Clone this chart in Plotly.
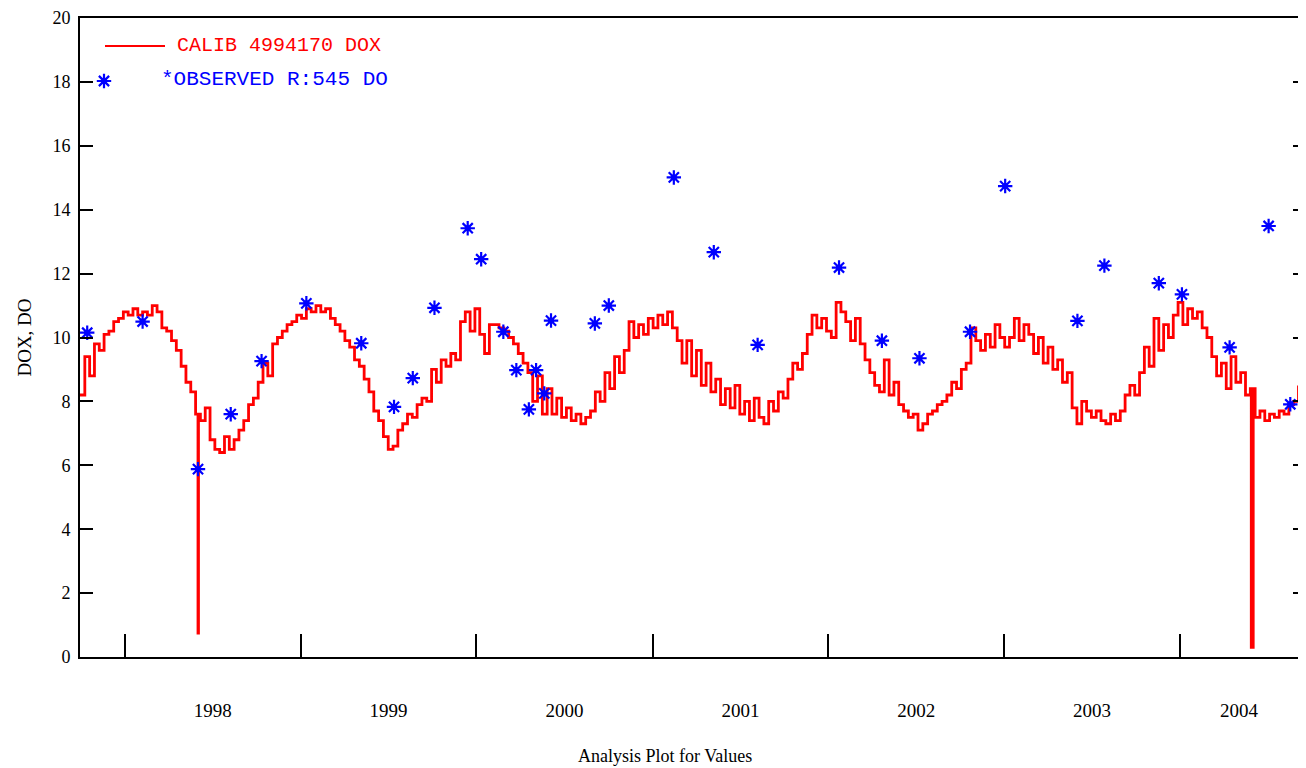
import pandas as pd
import plotly.graph_objects as go

# ---------------- data ----------------
# simulated DOX (10-day steps starting at line_start)
line_start = "1997-09-30"
line_step = "10D"
dox_values = [
    8.2, 9.4, 8.8, 9.8, 9.6, 10.1, 10.2, 10.5, 10.6, 10.8,
    10.7, 10.9, 10.7, 10.8, 10.7, 11.0, 10.8, 10.3, 10.2, 9.9,
    9.6, 9.1, 8.6, 8.3, 7.6, 7.4, 7.8, 6.8, 6.5, 6.4,
    6.9, 6.5, 6.8, 7.1, 7.4, 7.9, 8.1, 8.6, 9.2, 8.8,
    9.8, 10.0, 10.2, 10.4, 10.5, 10.7, 10.6, 10.9, 10.8, 11.0,
    10.8, 10.9, 10.6, 10.4, 10.2, 9.9, 9.7, 9.3, 9.1, 8.7,
    8.3, 7.7, 7.4, 6.9, 6.5, 6.6, 7.1, 7.3, 7.6, 7.5,
    7.9, 8.1, 8.0, 9.0, 8.6, 9.3, 9.1, 9.5, 9.3, 10.5,
    10.8, 10.2, 10.9, 10.1, 9.5, 10.4, 10.4, 10.3, 10.2, 10.0,
    9.8, 9.5, 9.2, 8.9, 8.0, 8.8, 7.6, 8.4, 7.6, 8.1,
    7.5, 7.8, 7.4, 7.6, 7.3, 7.5, 7.7, 8.3, 8.0, 8.9,
    8.4, 9.4, 8.9, 9.6, 10.5, 10.0, 10.4, 10.1, 10.6, 10.3,
    10.7, 10.4, 10.8, 10.3, 9.9, 9.2, 9.9, 8.8, 9.6, 8.5,
    9.2, 8.3, 8.7, 7.9, 8.4, 7.8, 8.5, 7.6, 8.0, 7.4,
    8.1, 7.5, 7.3, 8.0, 7.7, 8.3, 8.1, 8.7, 9.2, 9.0,
    9.5, 10.1, 10.7, 10.3, 10.6, 10.2, 10.0, 11.1, 10.8, 10.5,
    9.9, 10.6, 9.8, 9.3, 8.9, 8.5, 8.3, 9.3, 8.2, 8.6,
    7.9, 7.7, 7.5, 7.6, 7.1, 7.3, 7.6, 7.7, 7.9, 8.0,
    8.2, 8.6, 8.4, 9.0, 9.2, 10.3, 9.9, 9.6, 10.1, 9.7,
    10.4, 10.0, 9.7, 10.0, 10.6, 9.9, 10.4, 10.1, 9.5, 10.0,
    9.2, 9.7, 9.0, 9.3, 8.6, 8.9, 7.8, 7.3, 8.0, 7.7,
    7.5, 7.7, 7.4, 7.3, 7.6, 7.4, 7.7, 8.2, 8.5, 8.2,
    8.9, 9.7, 9.1, 10.6, 9.6, 10.4, 10.0, 10.7, 11.1, 10.4,
    10.9, 10.6, 10.8, 10.3, 10.0, 9.4, 8.8, 9.2, 8.4, 9.4,
    8.6, 8.9, 8.2, 8.4, 7.5, 7.7, 7.4, 7.6, 7.5, 7.7,
    7.6, 7.9, 8.0, 8.5,
]
# short drops in the simulated series
spike_start = ["1998-06-02", "2004-05-28"]
spike_end = ["1998-06-03", "2004-06-01"]
spike_values = [0.75, 0.3]

# observed DO
obs_dates = [
    "1997-10-15", "1998-02-07", "1998-06-02", "1998-08-09", "1998-10-12",
    "1999-01-13", "1999-05-07", "1999-07-14", "1999-08-22", "1999-10-06",
    "1999-12-14", "2000-01-11", "2000-02-26", "2000-03-24", "2000-04-19",
    "2000-05-04", "2000-05-21", "2000-06-04", "2000-09-03", "2000-10-02",
    "2001-02-14", "2001-05-08", "2001-08-07", "2002-01-23", "2002-04-22",
    "2002-07-09", "2002-10-22", "2003-01-03", "2003-06-02", "2003-07-28",
    "2003-11-18", "2004-01-05", "2004-04-13", "2004-07-03", "2004-08-17",
]
obs_values = [
    10.15, 10.5, 5.88, 7.6, 9.26,
    11.07, 9.82, 7.83, 8.73, 10.93,
    13.42, 12.45, 10.18, 8.98, 7.75,
    8.98, 8.25, 10.53, 10.44, 11.0,
    15.01, 12.67, 9.77, 12.19, 9.9,
    9.35, 10.18, 14.74, 10.52, 12.25,
    11.7, 11.35, 9.69, 13.49, 7.91,
]

years = [1998, 1999, 2000, 2001, 2002, 2003, 2004]
year_labels = [str(y) for y in years]
x_range = ["1997-09-30", "2004-09-02"]
y_ticks = list(range(0, 21, 2))

line_name = "CALIB 4994170 DOX"
obs_name = "*OBSERVED R:545 DO"
x_title = "Analysis Plot for Values"
y_title = "DOX, DO"

# ---------------- build series ----------------
base = pd.Series(dox_values,
                 index=pd.date_range(line_start, periods=len(dox_values), freq=line_step))
extra = {}
for s, e, v in zip(spike_start, spike_end, spike_values):
    s, e = pd.Timestamp(s), pd.Timestamp(e)
    extra[e] = base.asof(e)
    extra[s] = v
series = pd.concat([base, pd.Series(extra)]).sort_index()
series = series[~series.index.duplicated(keep="last")]

rng0, rng1 = pd.Timestamp(x_range[0]), pd.Timestamp(x_range[1])
year_starts = [pd.Timestamp(f"{y}-01-01") for y in years]
label_dates = []
for y in years:
    a = max(pd.Timestamp(f"{y}-01-01"), rng0)
    b = min(pd.Timestamp(f"{y + 1}-01-01"), rng1)
    label_dates.append(a + (b - a) / 2)

RED = "#ff0000"
BLUE = "#0000ff"
SERIF = "Liberation Serif"
MONO = "Liberation Mono"

# page body adds an 8px margin; size the figure so the plot box lands where the reference has it
PAGE = 8
FIG_W, FIG_H = 1306 - 2 * PAGE, 768 - PAGE
PLOT_L, PLOT_R, PLOT_T, PLOT_B = 80, 1306 - PAGE, 18, 657   # screen pixels of plot box
PW, PH = PLOT_R - PLOT_L, PLOT_B - PLOT_T


def px(x):
    return (x - PLOT_L) / PW


def py(y):
    return (PLOT_B - y) / PH


def star_traces(x, y, **kw):
    return [
        go.Scatter(x=x, y=y, mode="markers",
                   marker=dict(symbol="circle", size=6, color=BLUE), **kw),
        go.Scatter(x=x, y=y, mode="markers",
                   marker=dict(symbol="asterisk-open", size=12, color=BLUE,
                               line=dict(color=BLUE, width=2.2)), **kw),
    ]


fig = go.Figure()
fig.add_trace(go.Scatter(x=series.index, y=series.values, mode="lines",
                         line=dict(color=RED, width=2.8, shape="hv"),
                         name=line_name, hoverinfo="skip"))
for t in star_traces(pd.to_datetime(obs_dates), obs_values, name=obs_name):
    fig.add_trace(t)
# invisible trace keeping the right-hand tick axis alive
fig.add_trace(go.Scatter(x=[], y=[], yaxis="y2", showlegend=False))

# hand-drawn legend on an overlay axis pair spanning [0,1]
fig.add_trace(go.Scatter(x=[px(105), px(165)], y=[py(46), py(46)], mode="lines",
                         line=dict(color=RED, width=2), xaxis="x3", yaxis="y3"))
for t in star_traces([px(104)], [py(81)], xaxis="x3", yaxis="y3"):
    fig.add_trace(t)

fig.update_layout(
    width=FIG_W, height=FIG_H,
    margin=dict(l=PLOT_L - PAGE, r=0, t=PLOT_T - PAGE, b=FIG_H - (PLOT_B - PAGE)),
    paper_bgcolor="white", plot_bgcolor="white",
    showlegend=False,
    xaxis=dict(
        type="date", range=x_range, showgrid=False, zeroline=False,
        showline=True, linecolor="black", linewidth=2, mirror=True,
        tickmode="array", tickvals=label_dates, ticktext=year_labels,
        ticks="outside", ticklen=35, tickcolor="rgba(0,0,0,0)",
        tickfont=dict(family=SERIF, size=19, color="black"),
        minor=dict(tickmode="array", tickvals=year_starts, ticks="inside",
                   ticklen=23, tickwidth=2, tickcolor="black", showgrid=False),
    ),
    yaxis=dict(
        range=[0, 20], tickmode="array", tickvals=y_ticks,
        showgrid=False, zeroline=False, showline=True, linecolor="black",
        linewidth=2, ticks="inside", ticklen=13, tickwidth=2, tickcolor="black",
        tickfont=dict(family=SERIF, size=18, color="black"),
        ticklabelstandoff=4,
        title=dict(text=y_title, font=dict(family=SERIF, size=19, color="black"),
                   standoff=16),
    ),
    yaxis2=dict(
        overlaying="y", side="right", range=[0, 20], tickmode="array",
        tickvals=y_ticks, ticks="inside", ticklen=5, tickwidth=2,
        tickcolor="black", showline=False, showticklabels=False,
        showgrid=False, zeroline=False,
    ),
    xaxis3=dict(overlaying="x", anchor="y3", range=[0, 1], visible=False),
    yaxis3=dict(overlaying="y", anchor="x3", range=[0, 1], visible=False),
    annotations=[
        dict(text=line_name, xref="paper", yref="paper",
             x=px(175), y=py(46), xanchor="left", yanchor="middle",
             showarrow=False, font=dict(family=MONO, size=20, color=RED)),
        dict(text=obs_name, xref="paper", yref="paper",
             x=px(159), y=py(80), xanchor="left", yanchor="middle",
             showarrow=False, font=dict(family=MONO, size=21, color=BLUE)),
        dict(text=x_title, xref="paper", yref="paper",
             x=px(665), y=py(756), xanchor="center", yanchor="middle",
             showarrow=False, font=dict(family=SERIF, size=18, color="black")),
    ],
)

fig.write_html("out.html")
